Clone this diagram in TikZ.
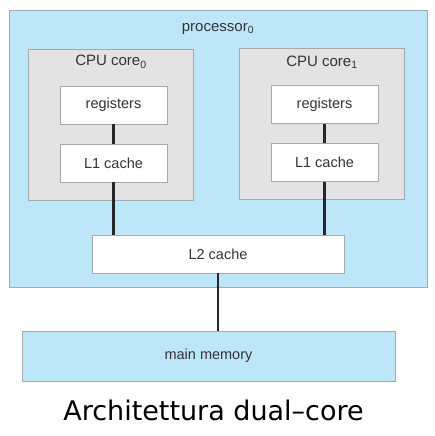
\documentclass[tikz,border=0pt]{standalone}
\usepackage{fontspec}
\setmainfont{Liberation Sans}
\newfontfamily\capfont{DejaVu Sans}
\definecolor{procblue}{HTML}{BDE6F9}
\definecolor{coregray}{HTML}{E3E3E3}
\definecolor{edgegray}{HTML}{A4A9AC}
\tikzset{
  box/.style={draw=edgegray, line width=0.8pt, rectangle, inner sep=0pt},
  whitebox/.style={box, fill=white, text=black!80, font=\fontsize{14.5}{16}\selectfont},
  link/.style={draw=black!85, line width=2.2pt},
  lbl/.style={font=\fontsize{15}{17}\selectfont, inner sep=0pt, text=black!80}
}
\begin{document}
\begin{tikzpicture}[x=1pt,y=-1pt]
\useasboundingbox (0,0) rectangle (435,436);
\fill[white] (0,0) rectangle (435,436);
\node[box, fill=procblue, minimum width=418pt, minimum height=277pt] (proc) at (218,148.5) {};
\node[lbl] (proclbl) at (218,29) {processor\textsubscript{0}};
\node[box, fill=coregray, minimum width=165pt, minimum height=151pt] (core0) at (110.5,124.5) {};
\node[box, fill=coregray, minimum width=165pt, minimum height=151pt] (core1) at (321.5,123.5) {};
\node[lbl] (c0lbl) at (111,62) {CPU core\textsubscript{0}};
\node[lbl] (c1lbl) at (322,62) {CPU core\textsubscript{1}};
\node[whitebox, minimum width=107pt, minimum height=38pt] (reg0) at (113.5,105) {registers};
\node[whitebox, minimum width=107pt, minimum height=38pt] (reg1) at (324.5,104.5) {registers};
\node[whitebox, minimum width=107pt, minimum height=38pt] (l10) at (113.5,163) {L1 cache};
\node[whitebox, minimum width=107pt, minimum height=38pt] (l11) at (324.5,162.5) {L1 cache};
\node[whitebox, minimum width=252pt, minimum height=38pt] (l2) at (218,254) {L2 cache};
\node[box, fill=procblue, text=black!80, font=\fontsize{14.5}{16}\selectfont, minimum width=373pt, minimum height=50pt] (mem) at (208.5,356) {main memory};
\draw[link] (reg0) -- (l10);
\draw[link] (reg1) -- (l11);
\draw[link] (l10.south) -- (l10.south |- l2.north);
\draw[link] (l11.south) -- (l11.south |- l2.north);
\draw[link] (l2.south) -- (l2.south |- mem.north);
\node[font=\capfont\fontsize{27}{30}\selectfont, inner sep=0pt, anchor=base] (cap) at (213.5,420) {Architettura dual–core};
\end{tikzpicture}
\end{document}
